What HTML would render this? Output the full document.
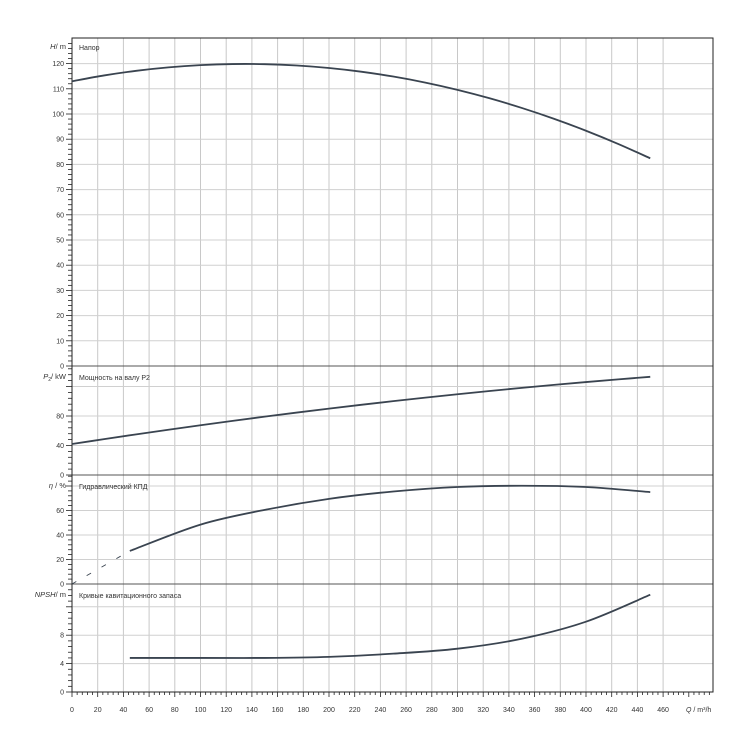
<!DOCTYPE html>
<html><head><meta charset="utf-8"><style>
html,body{margin:0;padding:0;background:#fff;}
svg{display:block;font-family:"Liberation Sans","DejaVu Sans",sans-serif;}
</style></head><body>
<svg id="s" width="750" height="750" viewBox="0 0 750 750" xmlns="http://www.w3.org/2000/svg"></svg>
<script>
const s=document.getElementById('s');
let h='';
const X0=72,XR=713,px=25.7/20;
const qx=q=>X0+q*px;
const P=[
 {top:38,z:366,u:25.2/10,g:10,m:2,lab:[0,10,20,30,40,50,60,70,80,90,100,110,120]},
 {top:366,z:475,u:29.5/40,g:40,m:8,lab:[0,40,80]},
 {top:475,z:584,u:24.5/20,g:20,m:4,lab:[0,20,40,60]},
 {top:584,z:692,u:7.1,g:4,m:0.8,lab:[0,4,8]}
];
for(let q=20;q<=460;q+=20)h+=`<line x1="${qx(q)}" y1="38" x2="${qx(q)}" y2="692" stroke="#c8c8c8" stroke-width="1"/>`;
P.forEach((p,i)=>{
 for(let v=p.g;;v+=p.g){const y=p.z-v*p.u;if(y<=p.top+2)break;h+=`<line x1="${X0}" y1="${y}" x2="${XR}" y2="${y}" stroke="#d0d0d0"/>`;}
 for(let k=0;;k++){const v=k*p.m;const y=p.z-v*p.u;if(y<p.top+1)break;const maj=Math.abs(v/p.g-Math.round(v/p.g))<1e-6||p.lab.includes(Math.round(v*10)/10);h+=`<line x1="${maj?66:68}" y1="${y}" x2="${X0}" y2="${y}" stroke="#222" stroke-width="0.8"/>`;}
 p.lab.forEach(v=>{h+=`<text x="64" y="${p.z-v*p.u+2.5}" font-size="7" text-anchor="end" fill="#333">${v}</text>`;});
 if(i>0)h+=`<line x1="${X0}" y1="${p.top}" x2="${XR}" y2="${p.top}" stroke="#555" stroke-width="1"/>`;
});
for(let q=0;q<=500;q+=4){const x=qx(q);if(x>XR)break;const maj=q%20==0;h+=`<line x1="${x}" y1="692" x2="${x}" y2="${maj?697:695}" stroke="#222" stroke-width="0.8"/>`;}
for(let q=0;q<=460;q+=20)h+=`<text x="${qx(q)}" y="712" font-size="7" text-anchor="middle" fill="#333">${q}</text>`;
h+=`<text x="686" y="712" font-size="7" fill="#333"><tspan font-style="italic">Q</tspan> / m³/h</text>`;
h+=`<rect x="${X0}" y="38" width="${XR-X0}" height="654" fill="none" stroke="#222" stroke-width="1"/>`;
h+=`<text x="66" y="49" font-size="7.5" text-anchor="end" fill="#333"><tspan font-style="italic">H</tspan>/ m</text>`;
h+=`<text x="66" y="379" font-size="7.5" text-anchor="end" fill="#333"><tspan font-style="italic">P</tspan><tspan font-size="5" dy="2">2</tspan><tspan dy="-2">/ kW</tspan></text>`;
h+=`<text x="66" y="488" font-size="7.5" text-anchor="end" fill="#333"><tspan font-style="italic">η</tspan> / %</text>`;
h+=`<text x="66" y="597" font-size="7.5" text-anchor="end" fill="#333"><tspan font-style="italic">NPSH</tspan>/ m</text>`;
h+=`<text x="79" y="50" font-size="7" fill="#333">Напор</text>`;
h+=`<text x="79" y="380" font-size="7" fill="#333">Мощность на валу P2</text>`;
h+=`<text x="79" y="489" font-size="7" fill="#333">Гидравлический КПД</text>`;
h+=`<text x="79" y="598" font-size="7" fill="#333">Кривые кавитационного запаса</text>`;
function path(pts){
 let d=`M${pts[0][0]},${pts[0][1]}`;
 for(let i=0;i<pts.length-1;i++){const p0=pts[i-1]||pts[i],p1=pts[i],p2=pts[i+1],p3=pts[i+2]||p2;
  d+=` C${p1[0]+(p2[0]-p0[0])/6},${p1[1]+(p2[1]-p0[1])/6} ${p2[0]-(p3[0]-p1[0])/6},${p2[1]-(p3[1]-p1[1])/6} ${p2[0]},${p2[1]}`;}
 return d;}
const cv=(pi,arr)=>arr.map(([q,v])=>[qx(q),P[pi].z-v*P[pi].u]);
const st='fill="none" stroke="#3a4450" stroke-width="1.8"';
let H=[];for(let q=0;q<=450;q+=25)H.push([q,113+0.1017*q-0.000377*q*q]);
h+=`<path d="${path(cv(0,H))}" ${st}/>`;
let Pw=[];for(let q=0;q<=450;q+=25)Pw.push([q,42+0.27*q-0.00015*q*q]);
h+=`<path d="${path(cv(1,Pw))}" ${st}/>`;
h+=`<path d="${path(cv(2,[[0,0],[45,27]]))}" fill="none" stroke="#3a4450" stroke-width="0.9" stroke-dasharray="5,12"/>`;
h+=`<path d="${path(cv(2,[[45,27],[100,48.5],[150,60.5],[200,69.5],[250,75.5],[300,79.2],[350,80.2],[400,79.2],[450,75]]))}" ${st}/>`;
h+=`<path d="${path(cv(3,[[45,4.8],[100,4.8],[150,4.8],[200,4.95],[250,5.4],[300,6.1],[350,7.5],[400,9.9],[450,13.7]]))}" ${st}/>`;
s.innerHTML=h;
</script>
</body></html>
